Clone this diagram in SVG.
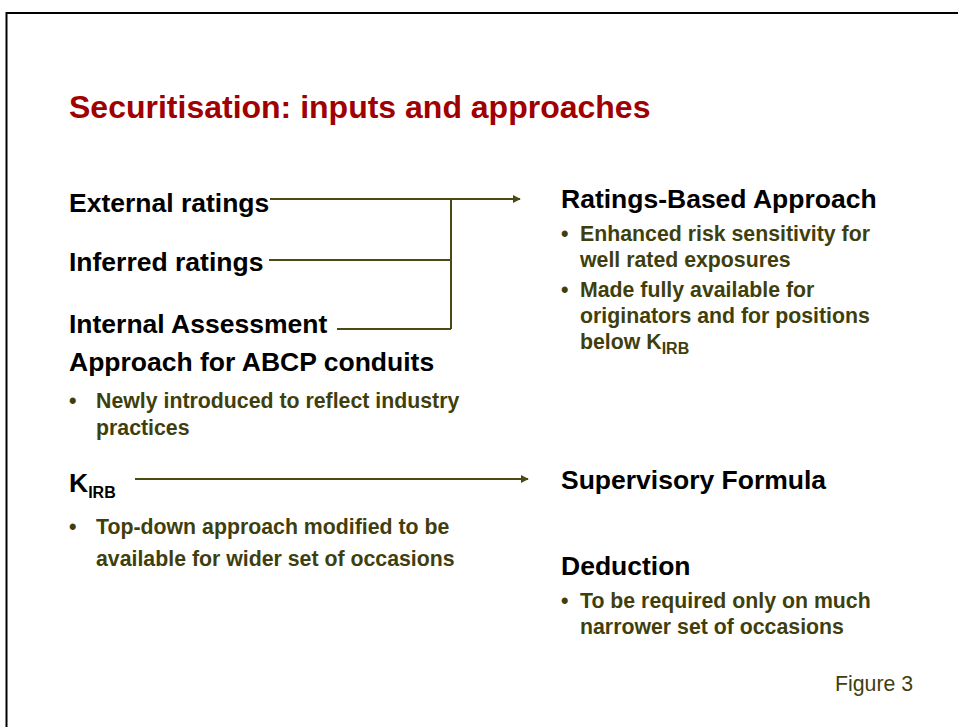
<svg xmlns="http://www.w3.org/2000/svg" width="958" height="727" viewBox="0 0 958 727">
  <style>
    text { font-family: "Liberation Sans", Arial, sans-serif; }
    .title { font-size: 32px; font-weight: bold; fill: #a00000; }
    .head { font-size: 26.5px; font-weight: bold; fill: #000000; }
    .bullet { font-size: 21.3px; font-weight: bold; fill: #3f3f0e; }
    .sub { font-size: 16px; }
    .note { font-size: 21.3px; fill: #3f3f0e; }
    .wire { fill: none; stroke: #4a4a14; stroke-width: 2; }
  </style>
  <defs>
    <marker id="arrow" viewBox="0 0 10 10" refX="9" refY="5" markerWidth="4" markerHeight="4" orient="auto" markerUnits="strokeWidth">
      <path d="M0,0 L10,5 L0,10 z" fill="#4a4a14"/>
    </marker>
  </defs>

  <rect width="958" height="727" fill="#ffffff"/>
  <!-- slide frame, open towards the right and bottom -->
  <path d="M6.5,740 V13 H970" fill="none" stroke="#000000" stroke-width="2"/>

  <text class="title" x="69" y="118">Securitisation: inputs and approaches</text>

  <g id="external-ratings">
    <text class="head" x="69" y="212">External ratings</text>
  </g>
  <g id="inferred-ratings">
    <text class="head" x="69" y="271">Inferred ratings</text>
  </g>
  <g id="internal-assessment">
    <text class="head" x="69" y="333">Internal Assessment</text>
    <text class="head" x="69" y="371">Approach for ABCP conduits</text>
    <text class="bullet" x="69" y="408">•</text>
    <text class="bullet" x="96" y="408">Newly introduced to reflect industry</text>
    <text class="bullet" x="96" y="435">practices</text>
  </g>
  <g id="kirb">
    <text class="head" x="69" y="492">K<tspan class="sub" dy="6">IRB</tspan></text>
    <text class="bullet" x="69" y="534">•</text>
    <text class="bullet" x="96" y="534">Top-down approach modified to be</text>
    <text class="bullet" x="96" y="566">available for wider set of occasions</text>
  </g>

  <g id="ratings-based-approach">
    <text class="head" x="561" y="208">Ratings-Based Approach</text>
    <text class="bullet" x="561" y="241">•</text>
    <text class="bullet" x="580" y="241">Enhanced risk sensitivity for</text>
    <text class="bullet" x="580" y="267">well rated exposures</text>
    <text class="bullet" x="561" y="297">•</text>
    <text class="bullet" x="580" y="297">Made fully available for</text>
    <text class="bullet" x="580" y="323">originators and for positions</text>
    <text class="bullet" x="580" y="349">below K<tspan class="sub" dy="5">IRB</tspan></text>
  </g>
  <g id="supervisory-formula">
    <text class="head" x="561" y="489">Supervisory Formula</text>
  </g>
  <g id="deduction">
    <text class="head" x="561" y="575">Deduction</text>
    <text class="bullet" x="561" y="608">•</text>
    <text class="bullet" x="580" y="608">To be required only on much</text>
    <text class="bullet" x="580" y="634">narrower set of occasions</text>
  </g>

  <g id="connectors">
    <line class="wire" x1="270" y1="199" x2="520" y2="199" marker-end="url(#arrow)"/>
    <line class="wire" x1="269" y1="260" x2="451" y2="260"/>
    <line class="wire" x1="337" y1="329" x2="451" y2="329"/>
    <line class="wire" x1="451" y1="199" x2="451" y2="329"/>
    <line class="wire" x1="135" y1="479" x2="528" y2="479" marker-end="url(#arrow)"/>
  </g>

  <text class="note" x="835" y="691">Figure 3</text>
</svg>
